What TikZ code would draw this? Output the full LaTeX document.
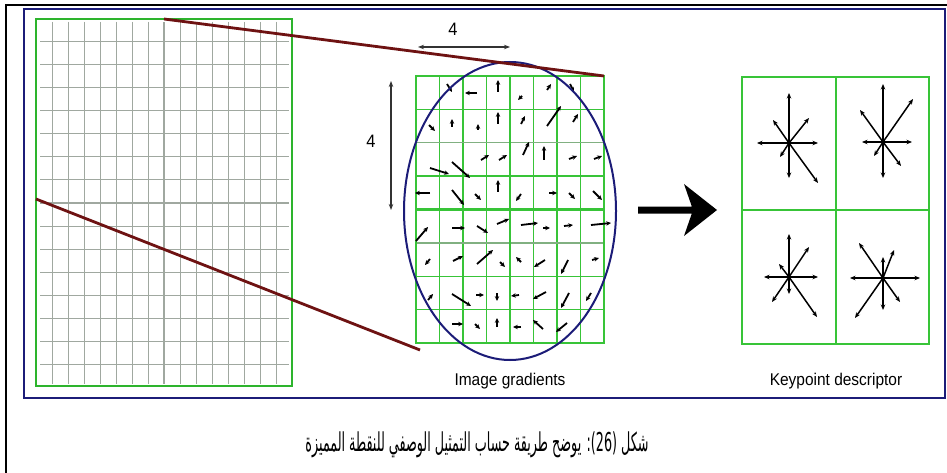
\documentclass[tikz,border=0pt]{standalone}
\usepackage{fontspec}
\setmainfont{Liberation Sans}
\newfontfamily\arabicfont[Script=Arabic]{DejaVu Sans}
\TeXXeTstate=1
\usetikzlibrary{arrows.meta}
\definecolor{navyline}{HTML}{1C1C78}
\definecolor{lgreen}{HTML}{2DB42D}
\definecolor{mgreen}{HTML}{38C438}
\definecolor{ggray}{HTML}{A0A8A0}
\definecolor{redline}{HTML}{6E1212}
\tikzset{
  outerframe/.style={black, line width=2.2},
  innerframe/.style={navyline, line width=1.6},
  gridgray/.style={ggray, line width=1},
  gridgraythick/.style={ggray, line width=1.7},
  greenborder/.style={lgreen, line width=2.6},
  mgridline/.style={mgreen, line width=1.3},
  mgridthick/.style={mgreen, line width=2.3},
  mgridgray/.style={ggray!70!mgreen, line width=1.3},
  zoomline/.style={redline, line width=2.8},
  gradarrow/.style={black, line width=1.8, -{Stealth[length=4.8pt,width=4.4pt]}},
  dimarrow/.style={black!80, line width=1.2, {Stealth[length=6pt,width=4.5pt]}-{Stealth[length=6pt,width=4.5pt]}},
  stararrow/.style={black, line width=1.5, -{Stealth[length=5.5pt,width=4.5pt]}},
  labeltext/.style={font=\fontsize{17}{20}\selectfont, xscale=0.91, inner sep=0pt, anchor=base},
  dimtext/.style={font=\fontsize{18}{20}\selectfont, xscale=0.91, inner sep=0pt},
  captiontext/.style={font=\arabicfont\fontsize{26}{30}\selectfont, xscale=0.49, inner sep=0pt},
}
\begin{document}
\begin{tikzpicture}[x=1pt,y=-1pt]
\useasboundingbox (0,0) rectangle (947,473);
\fill[white] (0,0) rectangle (947,473);
% frames
\draw[outerframe] (6,473) -- (6,5) -- (947,5);
\draw[innerframe] (24,9) rectangle (945,398);
% left grid
\foreach \i in {1,...,15} {
  \pgfmathsetmacro{\xx}{36+16*\i}
  \ifnum\i=8
    \draw[gridgraythick] (\xx,22) -- (\xx,384);
  \else
    \draw[gridgray] (\xx,22) -- (\xx,384);
  \fi
}
\foreach \j in {1,...,15} {
  \pgfmathsetmacro{\yy}{19+23*\j}
  \ifnum\j=8
    \draw[gridgraythick] (40,\yy) -- (289,\yy);
  \else
    \draw[gridgray] (40,\yy) -- (289,\yy);
  \fi
}
\draw[greenborder] (36,19) rectangle (292,386);
% middle grid
\foreach \i in {1,2,3,5,6,7} {
  \pgfmathsetmacro{\xx}{416+23.5*\i}
  \draw[mgridline] (\xx,76) -- (\xx,343);
}
\foreach \j in {1,3,6,7} {
  \pgfmathsetmacro{\yy}{76+33.375*\j}
  \draw[mgridline] (416,\yy) -- (604,\yy);
}
\foreach \j in {2,5} {
  \pgfmathsetmacro{\yy}{76+33.375*\j}
  \draw[mgridgray] (416,\yy) -- (604,\yy);
}
\draw[mgridthick] (510,76) -- (510,343);
\draw[mgridthick] (416,209.5) -- (604,209.5);
\draw[mgridthick] (416,76) rectangle (604,343);
% gradient arrows
\foreach \xa/\ya/\xb/\yb in {
 447/84/452/92, 477/93/465/93, 498/92/498/80, 522/96/518/100, 547/90/551/84, 570/84/574/92,
 429/125/435/131, 452/127/452/119, 478/130/478/124, 498/124/498/112, 521/124/525/116, 547/126/561/106, 573/122/578/114,
 430/168/449/174, 452/162/470/178, 481/160/489/155, 499/160/507/155, 523/155/529/142, 544/160/544/146, 569/159/577/156, 594/159/602/156,
 430/193/415/193, 452/190/464/205, 475/194/481/200, 498/192/498/180, 521/194/516/201, 549/193/557/193, 569/193/575/199, 593/191/602/200,
 416/241/428/227, 452/228/465/228, 477/226/488/233, 497/224/509/219, 521/225/538/223, 543/228/550/228, 564/226/573/225, 591/225/611/223,
 430/259/425/265, 453/261/463/256, 477/264/493/250, 500/262/505/267, 521/262/516/257, 545/260/534/267, 568/260/561/274, 592/260/599/258,
 428/300/433/294, 452/294/471/306, 476/295/484/295, 497/293/497/301, 519/295/511/296, 546/292/533/299, 569/293/561/308, 591/293/586/301,
 452/324/463/324, 475/324/480/329, 497/327/497/318, 521/327/513/327, 543/329/533/320, 567/323/556/332}
 { \draw[gradarrow] (\xa,\ya) -- (\xb,\yb); }
% ellipse
\coordinate (ell) at (510,211);
\draw[navyline, line width=2] (ell) ellipse [x radius=106, y radius=149];
% zoom lines
\coordinate (lgtop) at (164,19);
\coordinate (mgtr) at (604,76);
\coordinate (lgleft) at (36,199);
\coordinate (mgbl) at (420,350);
\draw[zoomline] (lgtop) -- (mgtr);
\draw[zoomline] (lgleft) -- (mgbl);
% dimension arrows
\coordinate (hA) at (418,47);
\coordinate (hB) at (510,47);
\coordinate (vA) at (391,81);
\coordinate (vB) at (391,210);
\draw[dimarrow] (hA) -- (hB);
\draw[dimarrow] (vA) -- (vB);
\node[dimtext] (dimh) at (453,29) {4};
\node[dimtext] (dimv) at (371,141) {4};
% big arrow
\fill[black] (638,206.5) -- (691.8,206.5) -- (684,184) -- (717,210) -- (684,236) -- (691.8,213.5) -- (638,213.5) -- cycle;
% descriptor grid
\draw[mgridthick] (742,77) rectangle (929,344);
\draw[mgridthick] (836,77) -- (836,344);
\draw[mgridthick] (742,210) -- (929,210);
\foreach \cx/\cy/\lst in {
  789/143/{0/50,0/-35,-32/0,29/0,20/25,-16/23,-9/-14,29/-40},
  883/142/{0/58,0/-36,-21/0,29/0,30/43,-23/32,-9/-14,18/-24},
  789/277/{0/43,0/-17,-25/0,29/0,20/30,-10/13,-17/-25,28/-40},
  883/278/{0/21,0/-32,-33/0,37/0,-24/35,11/28,-28/-40,17/-24}} {
  \foreach \dx/\dy in \lst {
    \draw[stararrow] (\cx,\cy) -- ++(\dx,-\dy);
  }
}
% labels
\node[labeltext] (lblgrad) at (510,385) {Image gradients};
\node[labeltext] (lbldesc) at (836,385) {Keypoint descriptor};
% caption
\node[captiontext] (caption) at (477,445) {\beginR شكل (\beginL 26\endL): يوضح طريقة حساب التمثيل الوصفي للنقطة المميزة\endR};
\end{tikzpicture}
\end{document}
